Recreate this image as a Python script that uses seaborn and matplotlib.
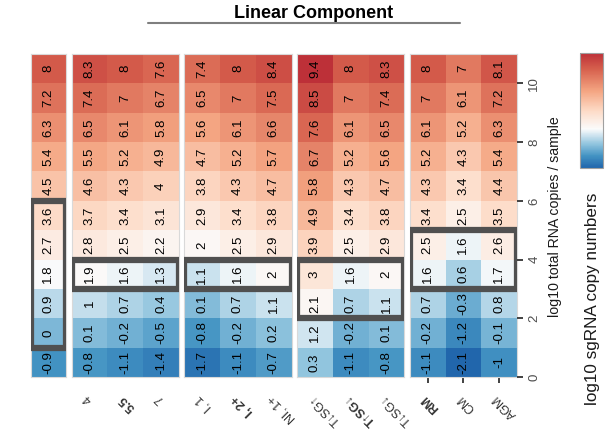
import numpy as np
import pandas as pd
import matplotlib
matplotlib.use("Agg")
import matplotlib.pyplot as plt
import seaborn as sns
from matplotlib.colors import LinearSegmentedColormap
from matplotlib.patches import Rectangle
from matplotlib.lines import Line2D

sns.set_theme(style="white")
plt.rcParams['font.family'] = ['Liberation Sans', 'DejaVu Sans']

# ---------------- data ----------------
y_ticks = [0, 2, 4, 6, 8, 10]
groups = [[""], ["4", "5.5", "7"], ["I, 1", "I, 2+", "NI, 1+"],
          ["T↓SG↑", "T↑SG↓", "T↓SG↓"], ["RM", "CM", "AGM"]]
bold_labels = ["5.5", "I, 2+", "T↑SG↓", "RM"]
# values per column, top row to bottom row
values = {
    "":       [8, 7.2, 6.3, 5.4, 4.5, 3.6, 2.7, 1.8, 0.9, 0, -0.9],
    "4":      [8.3, 7.4, 6.5, 5.5, 4.6, 3.7, 2.8, 1.9, 1, 0.1, -0.8],
    "5.5":    [8, 7, 6.1, 5.2, 4.3, 3.4, 2.5, 1.6, 0.7, -0.2, -1.1],
    "7":      [7.6, 6.7, 5.8, 4.9, 4, 3.1, 2.2, 1.3, 0.4, -0.5, -1.4],
    "I, 1":   [7.4, 6.5, 5.6, 4.7, 3.8, 2.9, 2, 1.1, 0.1, -0.8, -1.7],
    "I, 2+":  [8, 7, 6.1, 5.2, 4.3, 3.4, 2.5, 1.6, 0.7, -0.2, -1.1],
    "NI, 1+": [8.4, 7.5, 6.6, 5.7, 4.7, 3.8, 2.9, 2, 1.1, 0.2, -0.7],
    "T↓SG↑":  [9.4, 8.5, 7.6, 6.7, 5.8, 4.9, 3.9, 3, 2.1, 1.2, 0.3],
    "T↑SG↓":  [8, 7, 6.1, 5.2, 4.3, 3.4, 2.5, 1.6, 0.7, -0.2, -1.1],
    "T↓SG↓":  [8.3, 7.4, 6.5, 5.6, 4.7, 3.8, 2.9, 2, 1.1, 0.1, -0.8],
    "RM":     [8, 7, 6.1, 5.2, 4.3, 3.4, 2.5, 1.6, 0.7, -0.2, -1.1],
    "CM":     [7, 6.1, 5.2, 4.3, 3.4, 2.5, 1.6, 0.6, -0.3, -1.2, -2.1],
    "AGM":    [8.1, 7.2, 6.3, 5.4, 4.4, 3.5, 2.6, 1.7, 0.8, -0.1, -1],
}
# highlighted ranges (log10 total RNA, bottom..top) per facet
box_lo = [1, 3, 3, 2, 3]
box_hi = [6, 4, 4, 4, 5]

# ---------------- style ----------------
VMIN, VMAX = -2.1, 9.4
anchors = [(-2.1, '#2166ac'), (-0.9, '#4393c3'), (0.3, '#92c5de'), (1.2, '#d1e5f0'),
           (1.8, '#fbfbfb'), (3.6, '#fddbc7'), (5.6, '#f4a582'), (7.8, '#d6604d'),
           (9.4, '#bd3038')]
cmap = LinearSegmentedColormap.from_list(
    "cm", [((v - VMIN) / (VMAX - VMIN), c) for v, c in anchors])

W, H = 605, 433
fig = plt.figure(figsize=(W / 100, H / 100), dpi=100)

col_w, gap = 35.8, 5.3
top_px, bot_px = 54, 377
nrows = 11

def fx(px):
    return px / W

def fy(py):
    return 1 - py / H

cax = fig.add_axes([fx(580), fy(168), fx(23), 115 / H])

left = 30.5
for k, cols in enumerate(groups):
    width = col_w * len(cols)
    ax = fig.add_axes([fx(left), fy(bot_px), fx(width), (bot_px - top_px) / H])
    left += width + gap
    mat = np.array([values[c] for c in cols], dtype=float).T
    annot = np.array([[f"{v:g}" for v in row] for row in mat])
    df = pd.DataFrame(mat, columns=cols)
    last = (k == len(groups) - 1)
    sns.heatmap(df, ax=ax, cmap=cmap, vmin=VMIN, vmax=VMAX, annot=annot, fmt="",
                annot_kws=dict(rotation=90, color="black", fontsize=9.5),
                cbar=last, cbar_ax=cax if last else None,
                xticklabels=cols, yticklabels=False, linewidths=0)
    ax.set_xticklabels(cols, rotation=135, ha="right", va="bottom",
                       rotation_mode="anchor", fontsize=9, color="#333333")
    for t in ax.get_xticklabels():
        if t.get_text() in bold_labels:
            t.set_fontweight("bold")
    if last:
        ax.tick_params(axis="x", bottom=True, length=4.5, width=1.3,
                       color="#333333", pad=6.5)
    else:
        ax.tick_params(axis="x", bottom=False, length=0, pad=11)
    for s in ax.spines.values():
        s.set_visible(True)
        s.set_color("#d9d9d9")
        s.set_linewidth(0.8)
    ax.add_patch(Rectangle((0, nrows - box_hi[k]), len(cols), box_hi[k] - box_lo[k],
                           fill=False, edgecolor="#505050", linewidth=4.5,
                           clip_on=True, zorder=5))
    if last:
        ax2 = ax.twinx()
        ax2.set_ylim(0, nrows)
        ax2.set_yticks(y_ticks)
        ax2.set_yticklabels([str(v) for v in y_ticks], rotation=90, va="center",
                            fontsize=9.5, color="#4d4d4d")
        ax2.tick_params(axis="y", right=True, length=4, width=1.3,
                        color="#333333", pad=4)
        for s in ax2.spines.values():
            s.set_visible(False)
        cbar = ax.collections[0].colorbar

cbar.set_ticks([0, 3, 6, 9])
cax.tick_params(axis="y", which="both", direction="in", colors="white", length=4,
                width=1, left=True, right=True, labelleft=False, labelright=False)
cbar.outline.set_edgecolor("#a0a0a0")
cbar.outline.set_linewidth(0.8)

fig.text(fx(555), fy(217), "log10 total RNA copies / sample", rotation=90,
         ha="center", va="center", fontsize=10.2, color="#1a1a1a")
fig.text(fx(592), fy(299), "log10 sgRNA copy numbers", rotation=90,
         ha="center", va="center", fontsize=12.3, color="#1a1a1a")
fig.text(fx(314), fy(13), "Linear Component", ha="center", va="center",
         fontsize=13, fontweight="bold", color="black")
fig.add_artist(Line2D([fx(148), fx(460)], [fy(22.5), fy(22.5)],
                      color="#7f7f7f", linewidth=1.5, transform=fig.transFigure))

fig.savefig("out.png", dpi=100)
